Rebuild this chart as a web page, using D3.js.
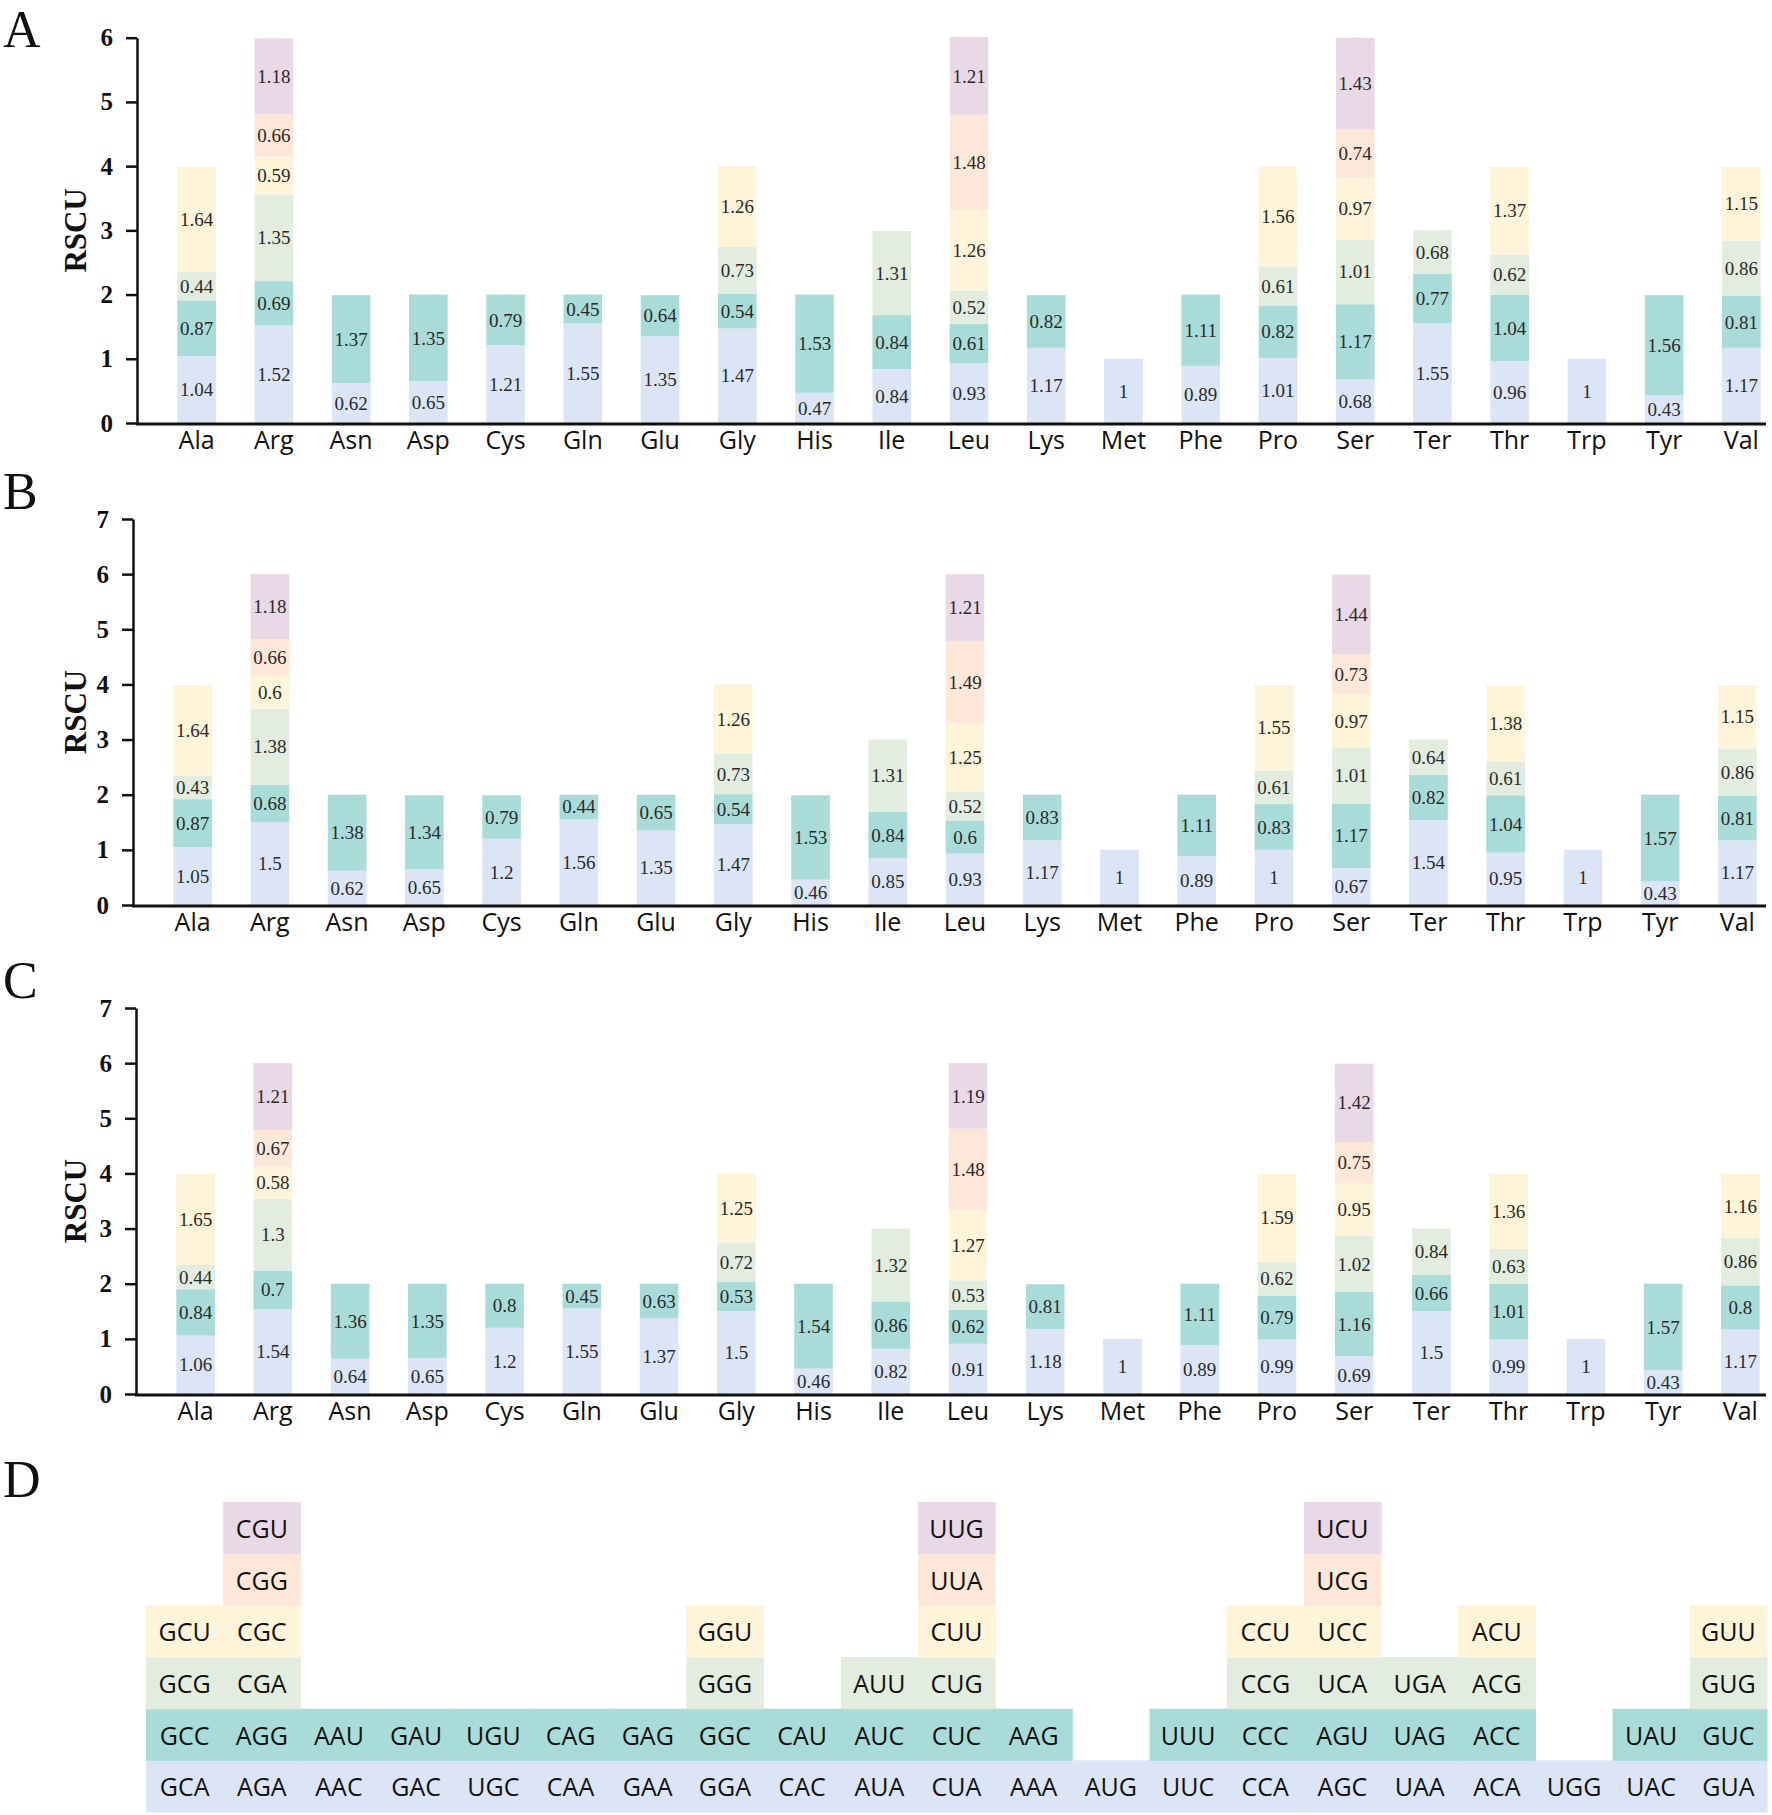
<!DOCTYPE html>
<html>
<head>
<meta charset="utf-8">
<script src="https://cdn.jsdelivr.net/npm/d3@7/dist/d3.min.js"></script>
<style>
  html, body { margin: 0; padding: 0; background: #fff; }
  svg { display: block; }
</style>
</head>
<body>
<svg id="chart" width="1772" height="1815"></svg>
<script>
// ---------------- DATA ----------------
const categories = ["Ala","Arg","Asn","Asp","Cys","Gln","Glu","Gly","His","Ile","Leu","Lys","Met","Phe","Pro","Ser","Ter","Thr","Trp","Tyr","Val"];

// RSCU values per amino acid, stacked bottom -> top
const rscuA = [
  [1.04,0.87,0.44,1.64],
  [1.52,0.69,1.35,0.59,0.66,1.18],
  [0.62,1.37],
  [0.65,1.35],
  [1.21,0.79],
  [1.55,0.45],
  [1.35,0.64],
  [1.47,0.54,0.73,1.26],
  [0.47,1.53],
  [0.84,0.84,1.31],
  [0.93,0.61,0.52,1.26,1.48,1.21],
  [1.17,0.82],
  [1],
  [0.89,1.11],
  [1.01,0.82,0.61,1.56],
  [0.68,1.17,1.01,0.97,0.74,1.43],
  [1.55,0.77,0.68],
  [0.96,1.04,0.62,1.37],
  [1],
  [0.43,1.56],
  [1.17,0.81,0.86,1.15]
];
const rscuB = [
  [1.05,0.87,0.43,1.64],
  [1.5,0.68,1.38,0.6,0.66,1.18],
  [0.62,1.38],
  [0.65,1.34],
  [1.2,0.79],
  [1.56,0.44],
  [1.35,0.65],
  [1.47,0.54,0.73,1.26],
  [0.46,1.53],
  [0.85,0.84,1.31],
  [0.93,0.6,0.52,1.25,1.49,1.21],
  [1.17,0.83],
  [1],
  [0.89,1.11],
  [1,0.83,0.61,1.55],
  [0.67,1.17,1.01,0.97,0.73,1.44],
  [1.54,0.82,0.64],
  [0.95,1.04,0.61,1.38],
  [1],
  [0.43,1.57],
  [1.17,0.81,0.86,1.15]
];
const rscuC = [
  [1.06,0.84,0.44,1.65],
  [1.54,0.7,1.3,0.58,0.67,1.21],
  [0.64,1.36],
  [0.65,1.35],
  [1.2,0.8],
  [1.55,0.45],
  [1.37,0.63],
  [1.5,0.53,0.72,1.25],
  [0.46,1.54],
  [0.82,0.86,1.32],
  [0.91,0.62,0.53,1.27,1.48,1.19],
  [1.18,0.81],
  [1],
  [0.89,1.11],
  [0.99,0.79,0.62,1.59],
  [0.69,1.16,1.02,0.95,0.75,1.42],
  [1.5,0.66,0.84],
  [0.99,1.01,0.63,1.36],
  [1],
  [0.43,1.57],
  [1.17,0.8,0.86,1.16]
];

// codons per amino acid, bottom -> top (panel D)
const codons = [
  ["GCA","GCC","GCG","GCU"],
  ["AGA","AGG","CGA","CGC","CGG","CGU"],
  ["AAC","AAU"],
  ["GAC","GAU"],
  ["UGC","UGU"],
  ["CAA","CAG"],
  ["GAA","GAG"],
  ["GGA","GGC","GGG","GGU"],
  ["CAC","CAU"],
  ["AUA","AUC","AUU"],
  ["CUA","CUC","CUG","CUU","UUA","UUG"],
  ["AAA","AAG"],
  ["AUG"],
  ["UUC","UUU"],
  ["CCA","CCC","CCG","CCU"],
  ["AGC","AGU","UCA","UCC","UCG","UCU"],
  ["UAA","UAG","UGA"],
  ["ACA","ACC","ACG","ACU"],
  ["UGG"],
  ["UAC","UAU"],
  ["GUA","GUC","GUG","GUU"]
];

const ticksA = [0,1,2,3,4,5,6];
const ticksBC = [0,1,2,3,4,5,6,7];
const layerColors = ["#dbe5f5","#a9dcd9","#e3eddf","#fdf4da","#fde7d9","#e9d8e6"];

// ---------------- LAYOUT ----------------
const svg = d3.select("#chart");
const serif = "'Liberation Serif','Times New Roman',serif";
const sans = "'Open Sans','Noto Sans',sans-serif";

const panels = [
  {letter:"A", letterY:47,  data:rscuA, ticks:ticksA,  max:6, axisX:137, yTop:37.7, yBottom:423, shift:0},
  {letter:"B", letterY:509, data:rscuB, ticks:ticksBC, max:7, axisX:133, yTop:519,  yBottom:905, shift:-4},
  {letter:"C", letterY:998, data:rscuC, ticks:ticksBC, max:7, axisX:136, yTop:1008, yBottom:1394, shift:-1}
];

panels.forEach(p => {
  const g = svg.append("g");
  const x = d3.scaleBand().domain(categories).range([158 + p.shift, 1780 + p.shift]).padding(0);
  const y = d3.scaleLinear().domain([0, p.max]).range([p.yBottom, p.yTop]);
  const barW = x.bandwidth() * 0.5;

  // panel letter
  g.append("text").attr("x", 3).attr("y", p.letterY)
    .attr("font-family", serif).attr("font-size", 52).attr("fill", "#111")
    .text(p.letter);

  // stacked bars
  const segs = [];
  categories.forEach((c, i) => {
    let cum = 0;
    p.data[i].forEach((v, k) => {
      segs.push({c, k, v, y0: cum, y1: cum + v});
      cum += v;
    });
  });
  g.selectAll("rect.seg").data(segs).join("rect")
    .attr("class", "seg")
    .attr("x", d => x(d.c) + (x.bandwidth() - barW) / 2)
    .attr("width", barW)
    .attr("y", d => y(d.y1))
    .attr("height", d => y(d.y0) - y(d.y1))
    .attr("fill", d => layerColors[d.k]);

  g.selectAll("text.val").data(segs).join("text")
    .attr("class", "val")
    .attr("x", d => x(d.c) + x.bandwidth() / 2)
    .attr("y", d => y((d.y0 + d.y1) / 2))
    .attr("dy", "0.35em")
    .attr("text-anchor", "middle")
    .attr("font-family", serif).attr("font-size", 19).attr("fill", "#2a2a2a")
    .text(d => String(d.v));

  // y axis
  const ya = g.append("g").attr("transform", `translate(${p.axisX},0)`)
    .call(d3.axisLeft(y).tickValues(p.ticks).tickSize(11).tickSizeOuter(0).tickPadding(13).tickFormat(d3.format("d")));
  ya.select(".domain").attr("stroke", "#111").attr("stroke-width", 2.5);
  ya.selectAll(".tick line").attr("stroke", "#111").attr("stroke-width", 2.5);
  ya.selectAll(".tick text").attr("font-family", serif).attr("font-weight", "bold")
    .attr("font-size", 25).attr("fill", "#111");

  // x axis line
  g.append("line").attr("x1", p.axisX - 1).attr("x2", 1766)
    .attr("y1", y(0) + 1).attr("y2", y(0) + 1)
    .attr("stroke", "#111").attr("stroke-width", 3);

  // category labels
  g.selectAll("text.cat").data(categories).join("text")
    .attr("class", "cat")
    .attr("x", d => x(d) + x.bandwidth() / 2)
    .attr("y", y(0) + 26)
    .attr("text-anchor", "middle")
    .attr("font-family", sans).attr("font-size", 25).attr("fill", "#111")
    .text(d => d);

  // y title
  g.append("text")
    .attr("transform", `translate(75,${(p.yTop + p.yBottom) / 2}) rotate(-90)`)
    .attr("text-anchor", "middle").attr("dy", "0.35em")
    .attr("font-family", serif).attr("font-weight", "bold").attr("font-size", 31).attr("fill", "#111")
    .text("RSCU");
});

// ---------------- PANEL D ----------------
const gD = svg.append("g");
gD.append("text").attr("x", 3).attr("y", 1497)
  .attr("font-family", serif).attr("font-size", 52).attr("fill", "#111").text("D");

const xD = d3.scaleBand().domain(categories).range([146, 1767]).padding(0);
const yD = d3.scaleBand().domain([0,1,2,3,4,5]).range([1812, 1502]).padding(0);

const cells = [];
categories.forEach((c, i) => {
  codons[i].forEach((cd, k) => cells.push({c, k, cd}));
});
gD.selectAll("rect.cell").data(cells).join("rect")
  .attr("class", "cell")
  .attr("x", d => xD(d.c))
  .attr("y", d => yD(d.k))
  .attr("width", xD.bandwidth() + 0.5)
  .attr("height", yD.bandwidth() + 0.5)
  .attr("fill", d => layerColors[d.k]);
gD.selectAll("text.cd").data(cells).join("text")
  .attr("class", "cd")
  .attr("x", d => xD(d.c) + xD.bandwidth() / 2)
  .attr("y", d => yD(d.k) + yD.bandwidth() / 2)
  .attr("dy", "0.4em")
  .attr("text-anchor", "middle")
  .attr("font-family", sans).attr("font-size", 25).attr("fill", "#111")
  .text(d => d.cd);
</script>
</body>
</html>
